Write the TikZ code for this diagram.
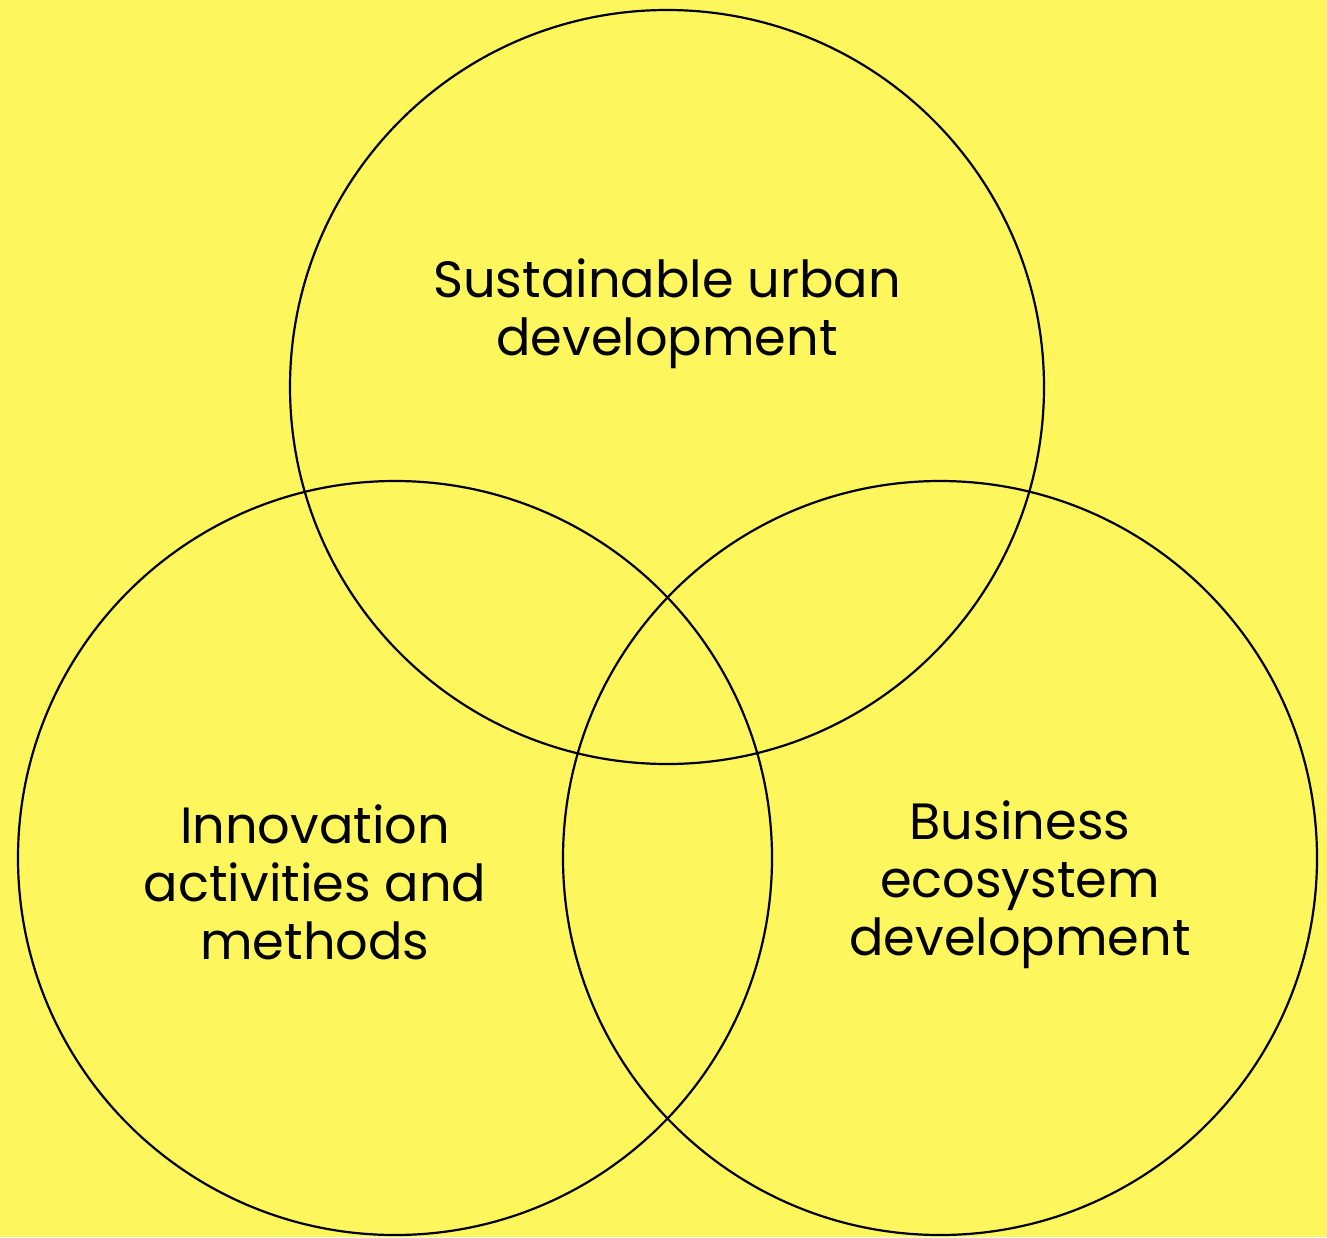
\documentclass[tikz,border=0pt]{standalone}
\usepackage{fontspec}
\setmainfont{Poppins}
\definecolor{vennyellow}{HTML}{FDF65C}

\begin{document}
\begin{tikzpicture}
  [x=1pt,y=-1pt,
   ring/.style={circle,draw=black,line width=2.2pt,minimum size=754pt,inner sep=0pt},
   label/.style={align=center,inner sep=0pt,font=\fontsize{51}{58}\selectfont}]
  \fill[vennyellow] (0,0) rectangle (1327,1237);
  \useasboundingbox (0,0) rectangle (1327,1237);

  \node[ring] (top)   at (667,387) {};
  \node[ring] (left)  at (395,858) {};
  \node[ring] (right) at (940,858) {};

  \node[label] (urban)      at (667,314) {Sustainable urban\\development};
  \node[label] (innovation) at (315,882) {Innovation\\activities and\\methods};
  \node[label] (business)   at (1020,885) {Business\\ecosystem\\development};

\end{tikzpicture}
\end{document}
